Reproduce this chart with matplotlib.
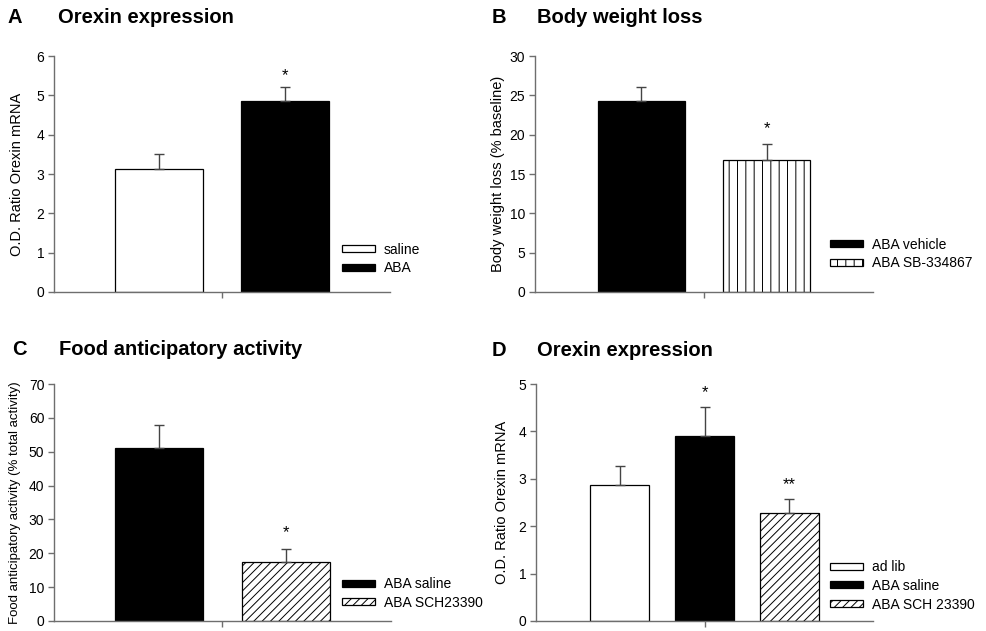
import matplotlib
matplotlib.use("Agg")
import matplotlib.pyplot as plt
import numpy as np

plt.rcParams['font.family'] = ['Liberation Sans', 'DejaVu Sans']
plt.rcParams['hatch.linewidth'] = 0.7

# ---- data ----
a_groups = ['saline', 'ABA']
a_means = [3.12, 4.85]
a_errs = [0.38, 0.35]
a_stars = ['', '*']

b_groups = ['ABA vehicle', 'ABA SB-334867']
b_means = [24.3, 16.8]
b_errs = [1.8, 2.0]
b_stars = ['', '*']

c_groups = ['ABA saline', 'ABA SCH23390']
c_means = [51.0, 17.5]
c_errs = [7.0, 3.7]
c_stars = ['', '*']

d_groups = ['ad lib', 'ABA saline', 'ABA SCH 23390']
d_means = [2.87, 3.90, 2.27]
d_errs = [0.40, 0.62, 0.30]
d_stars = ['', '*', '**']

W, H = 986, 631
AXIS_GRAY = '#6e6e6e'


def px_axes(fig, left, top, right, bottom):
    return fig.add_axes([left / W, 1 - bottom / H, (right - left) / W, (bottom - top) / H])


def bar_panel(ax, means, errs, stars, labels, styles, ymax, ystep, star_gap, xlim, ylabel,
              label_x, ylabel_size, leg_x, leg_y):
    x = np.arange(len(means)) - (len(means) - 1) / 2
    for xi, m, lab, (fc, hatch) in zip(x, means, labels, styles):
        ax.bar(xi, m, width=0.7, color=fc, edgecolor='black', linewidth=0.9,
               hatch=hatch, label=lab, zorder=2)
    ax.errorbar(x, means, yerr=[np.zeros(len(errs)), errs], fmt='none', ecolor='#444444',
                elinewidth=1.0, capsize=3.5, capthick=1.0, zorder=3)
    for xi, m, e, s in zip(x, means, errs, stars):
        if s:
            ax.text(xi, m + e + star_gap, s, ha='center', va='center', fontsize=12)

    ax.set_xlim(*xlim)
    ax.set_ylim(0, ymax)
    ax.set_yticks(np.arange(0, ymax + ystep / 2, ystep))
    ax.set_xticks([0])
    ax.set_xticklabels([''])
    for side in ['top', 'right']:
        ax.spines[side].set_visible(False)
    for side in ['left', 'bottom']:
        ax.spines[side].set_color(AXIS_GRAY)
        ax.spines[side].set_linewidth(1.0)
    ax.tick_params(axis='both', direction='out', length=4, width=1.0, color=AXIS_GRAY,
                   labelsize=10, pad=3)
    ax.set_ylabel(ylabel, fontsize=ylabel_size, va='center')
    ax.yaxis.set_label_coords(label_x, 0.5)
    ax.legend(loc='center left', bbox_to_anchor=(leg_x, leg_y), frameon=False,
              fontsize=10, handlelength=2.4, handleheight=0.4, handletextpad=0.6,
              labelspacing=0.35, borderpad=0, borderaxespad=0)


fig = plt.figure(figsize=(W / 100, H / 100), dpi=100)

axA = px_axes(fig, 54, 56, 390, 292)
bar_panel(axA, a_means, a_errs, a_stars, a_groups, [('white', None), ('black', None)],
          6, 1, 0.3, (-1.33, 1.33), 'O.D. Ratio Orexin mRNA', -0.11, 10.5, 0.857, 0.14)

axB = px_axes(fig, 535, 56, 873, 292)
bar_panel(axB, b_means, b_errs, b_stars, b_groups, [('black', None), ('white', '||')],
          30, 5, 2.0, (-1.35, 1.35), 'Body weight loss (% baseline)', -0.109, 10.5, 0.873, 0.161)

axC = px_axes(fig, 54, 384, 391, 621)
bar_panel(axC, c_means, c_errs, c_stars, c_groups, [('black', None), ('white', '////')],
          70, 10, 5.0, (-1.33, 1.33), 'Food anticipatory activity (% total activity)', -0.116, 9.5,
          0.855, 0.116)

axD = px_axes(fig, 536, 384, 873, 621)
bar_panel(axD, d_means, d_errs, d_stars, d_groups,
          [('white', None), ('black', None), ('white', '////')],
          5, 1, 0.3, (-1.99, 1.99), 'O.D. Ratio Orexin mRNA', -0.101, 10.5, 0.872, 0.148)

# panel letters and titles
titles = [('A', 7, 58, 23, 'Orexin expression'),
          ('B', 492, 537, 23, 'Body weight loss'),
          ('C', 12, 59, 355, 'Food anticipatory activity'),
          ('D', 492, 537, 356, 'Orexin expression')]
for letter, lx, tx, base, title in titles:
    fig.text(lx / W, 1 - base / H, letter, fontsize=14.5, fontweight='bold', va='baseline')
    fig.text(tx / W, 1 - base / H, title, fontsize=14.5, fontweight='bold', va='baseline')

fig.savefig('out.png', dpi=100)
